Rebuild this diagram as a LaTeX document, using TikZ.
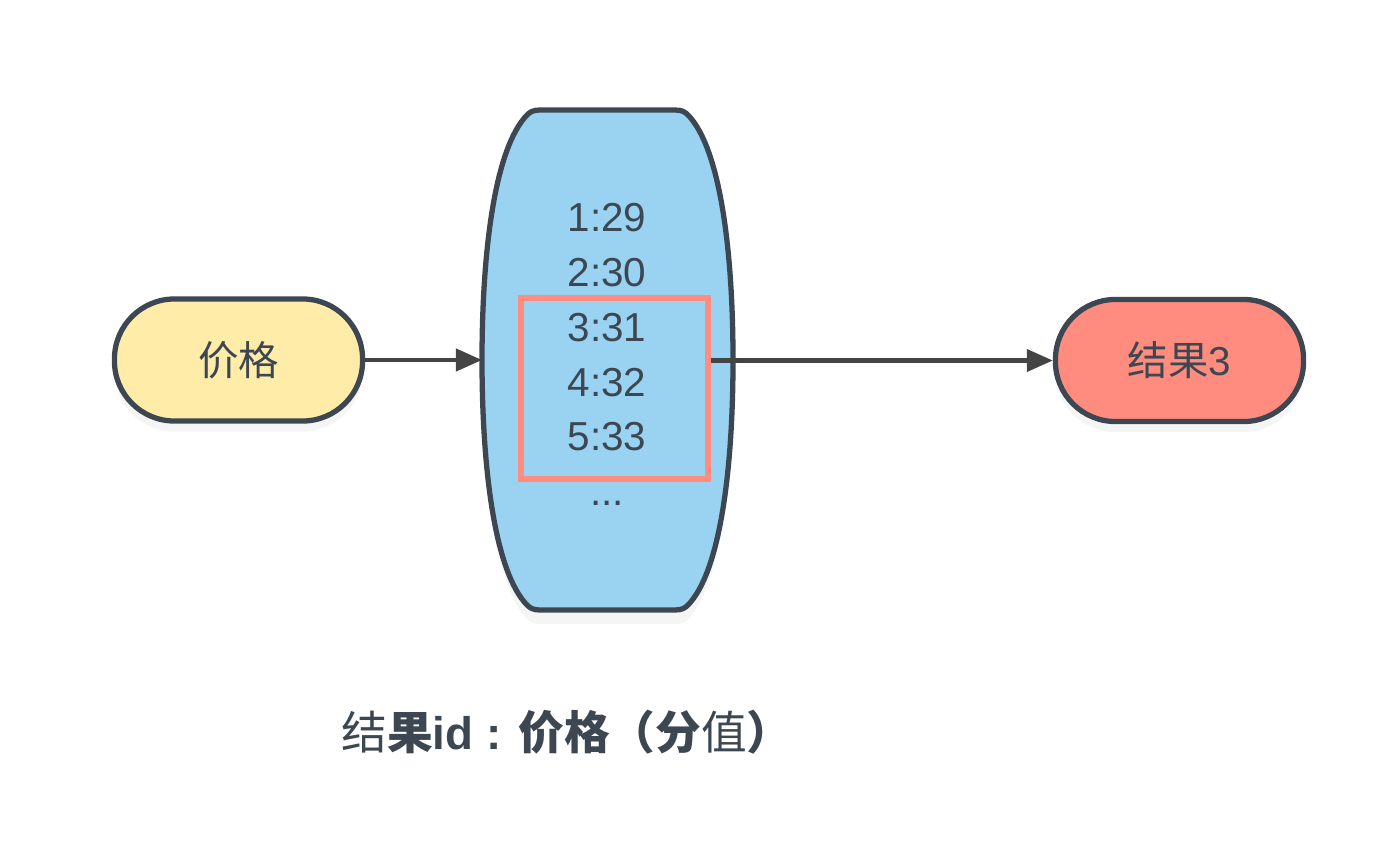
\documentclass[tikz,border=0pt]{standalone}
\usepackage{fontspec}
\setmainfont{Liberation Sans}
\newfontfamily\cjk{Noto Sans CJK SC}
\usetikzlibrary{arrows.meta,shadows}
\definecolor{edgec}{RGB}{61,71,81}
\definecolor{arrowc}{RGB}{68,68,68}
\definecolor{bluefill}{RGB}{154,210,242}
\definecolor{yellowfill}{RGB}{255,236,168}
\definecolor{redfill}{RGB}{255,140,127}
\tikzstyle{pill} = [draw=edgec, line width=1.5pt, rectangle, rounded corners=0.6cm,
    minimum width=2.48cm, minimum height=1.22cm, text=edgec,
    font=\cjk\fontsize{11.5}{13}\selectfont,
    drop shadow={opacity=0.08, shadow xshift=0pt, shadow yshift=-3pt}]
\tikzstyle{column} = [draw=edgec, line width=1.5pt, fill=bluefill,
    drop shadow={opacity=0.08, shadow xshift=0pt, shadow yshift=-4pt}]
\tikzstyle{pick} = [draw=redfill, line width=1.7pt, rectangle,
    minimum width=1.87cm, minimum height=1.81cm]
\tikzstyle{link} = [draw=arrowc, line width=1.15pt,
    -{Triangle[length=0.26cm,width=0.22cm]}]

\begin{document}
\begin{tikzpicture}[x=0.01cm,y=-0.01cm]
\useasboundingbox (0,0) rectangle (1398,852);

% kolom met waarden
\draw[column] (540,110) -- (675,110)
  .. controls (682,110) and (685,112) .. (688,115)
  .. controls (720,148) and (733,250) .. (733,360)
  .. controls (733,470) and (720,572) .. (688,605)
  .. controls (685,608) and (682,610) .. (675,610)
  -- (540,610)
  .. controls (533,610) and (530,608) .. (527,605)
  .. controls (495,572) and (482,470) .. (482,360)
  .. controls (482,250) and (495,148) .. (527,115)
  .. controls (530,112) and (533,110) .. (540,110) -- cycle;
\coordinate (colL) at (482,360);

\node[anchor=north, inner sep=0pt, align=center, text=edgec,
  font=\fontsize{11.5}{15.6}\selectfont] (vals) at (607,202.5)
  {1:29\\2:30\\3:31\\4:32\\5:33\\...};

\node[pick] (sel) at (614.5,388.5) {};

\node[pill, fill=yellowfill] (price) at (238.5,360) {价格};
\node[pill, fill=redfill] (res) at (1179.5,360.5) {结果{\fontspec{Liberation Sans}3}};

\draw[link] (price) -- (colL);
\draw[link] (sel.east |- res.west) -- (res.west);

\node[text=edgec, font=\fontsize{13}{15}\selectfont] (legend) at (567,732)
  {{\cjk 结\textbf{果}}\textbf{id : }{\cjk\textbf{价格（分}值\textbf{）}}};
\end{tikzpicture}
\end{document}
